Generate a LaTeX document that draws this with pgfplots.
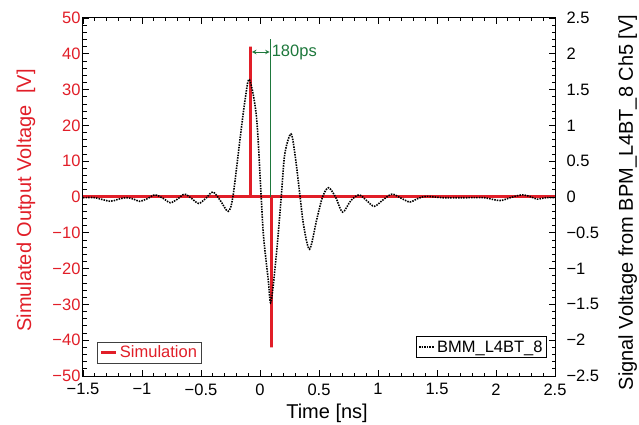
\documentclass[border=0pt]{standalone}
\usepackage{pgfplots}
\pgfplotsset{compat=1.18}
\usepackage{fontspec}
\setmainfont{Liberation Sans}
\definecolor{simred}{RGB}{225,30,40}
\definecolor{grn}{RGB}{30,120,60}
\begin{document}
\begin{tikzpicture}
\useasboundingbox (-83pt,-49pt) rectangle (556pt,376pt);
\pgfplotsset{every axis/.append style={font=\fontsize{16.5}{19}\selectfont},
  every axis label/.append style={font=\fontsize{20}{24}\selectfont}}
\begin{axis}[at={(0,0)}, anchor=south west, scale only axis,
  width=472pt, height=358pt,
  xmin=-1.5, xmax=2.5, ymin=-50, ymax=50,
  xtick={-1.5,-1,-0.5,0,0.5,1,1.5,2,2.5},
  xticklabels={−1.5,−1,−0.5,0,0.5,1,1.5,2,2.5},
  ytick={-50,-40,-30,-20,-10,0,10,20,30,40,50},
  yticklabels={−50,−40,−30,−20,−10,0,10,20,30,40,50},
  minor x tick num=4, minor y tick num=4,
  xtick pos=both, ytick pos=left, tick align=inside,
  major tick length=6pt, minor tick length=3.5pt,
  every tick/.style={black, line width=0.8pt},
  axis line style={line width=1pt},
  yticklabel style={text=simred, xshift=1pt},
  xticklabel style={yshift=-4pt},
  xlabel={Time [ns]},
  ylabel={Simulated Output Voltage~~[V]},
  xlabel style={at={(axis description cs:0.517,0)}, anchor=center, yshift=-37pt},
  ylabel style={text=simred, at={(axis description cs:-0.121,0.49)}, anchor=center, rotate=0},
  legend style={at={(axis description cs:0.03,0.034)}, anchor=south west, draw=darkgray, line width=0.8pt, text=simred, inner sep=2pt, font=\fontsize{16.5}{19}\selectfont},
  legend image post style={xscale=0.9},
  legend cell align=left,
]
\addplot[simred, line width=3pt, line join=miter] coordinates {(-1.5,0) (-0.08,0) (-0.08,42) (-0.08,0) (0.1,0) (0.1,-42) (0.1,0) (2.5,0)};
\addlegendentry{Simulation}
\addplot[grn, line width=1pt, forget plot] coordinates {(0.085,0) (0.085,44)};
\addplot[grn, line width=1pt, <->, >=stealth, forget plot] coordinates {(-0.068,40.5) (0.082,40.5)};
\node[text=grn, anchor=west, inner sep=1pt, font=\fontsize{16.5}{19}\selectfont] at (axis cs:0.09,40.5) {180ps};
\end{axis}
\begin{axis}[at={(0,0)}, anchor=south west, scale only axis,
  width=472pt, height=358pt,
  xmin=-1.5, xmax=2.5, ymin=-2.5, ymax=2.5,
  axis x line=none, axis y line*=right,
  ytick={-2.5,-2,-1.5,-1,-0.5,0,0.5,1,1.5,2,2.5},
  yticklabels={−2.5,−2,−1.5,−1,−0.5,0,0.5,1,1.5,2,2.5},
  yticklabel style={xshift=8pt},
  minor y tick num=4, tick align=inside,
  major tick length=6pt, minor tick length=3.5pt,
  every tick/.style={black, line width=0.8pt},
  axis line style={line width=1pt},
  ylabel={Signal Voltage from BPM\_L4BT\_8 Ch5 [V]},
  ylabel style={at={(axis description cs:1.154,0.485)}, anchor=center, rotate=0},
  legend style={at={(axis description cs:0.983,0.05)}, anchor=south east, draw=black, line width=0.8pt, inner sep=2pt, font=\fontsize{16.5}{19}\selectfont},
  legend image post style={xscale=0.9},
]
\addplot[black, line width=1.6pt, dash pattern=on 1.5pt off 1.1pt, smooth, tension=0.5] coordinates {
(-1.5,-0.01) (-1.4,-0.01) (-1.27,-0.06) (-1.2,-0.03) (-1.13,-0.01) (-1.07,-0.03)
(-1.02,-0.06) (-0.95,-0.02) (-0.89,0.03) (-0.82,-0.02) (-0.76,-0.08) (-0.70,-0.03)
(-0.64,0.04) (-0.58,-0.02) (-0.52,-0.09) (-0.46,-0.02) (-0.40,0.07) (-0.34,-0.04)
(-0.27,-0.2) (-0.23,0) (-0.17,0.8) (-0.127,1.35) (-0.09,1.64) (-0.03,1.12)
(0.01,0) (0.03,-0.55) (0.07,-1.16) (0.093,-1.47) (0.14,-0.78) (0.18,0)
(0.21,0.6) (0.263,0.88) (0.30,0.55) (0.34,0) (0.37,-0.4) (0.42,-0.73)
(0.48,-0.32) (0.53,0) (0.58,0.13) (0.64,0) (0.70,-0.21) (0.77,-0.05)
(0.84,0.03) (0.91,-0.06) (0.97,-0.13) (1.05,-0.03) (1.12,0.04) (1.2,-0.02)
(1.27,-0.07) (1.34,-0.02) (1.41,0.01) (1.55,-0.01) (1.75,-0.01) (1.9,-0.01)
(2.03,-0.05) (2.12,-0.01) (2.22,0.03) (2.3,0.0) (2.35,-0.03) (2.42,-0.01) (2.5,-0.01)};
\addlegendentry{BMM\_L4BT\_8}
\end{axis}
\end{tikzpicture}
\end{document}
